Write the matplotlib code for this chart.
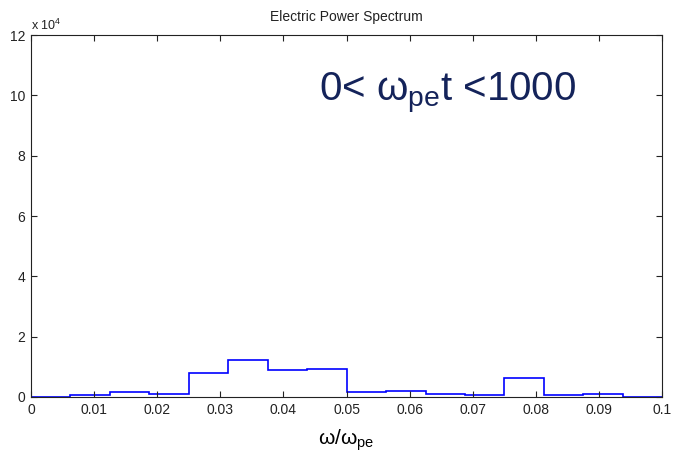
import matplotlib
matplotlib.use("Agg")
import matplotlib.pyplot as plt
import numpy as np
from matplotlib.ticker import FuncFormatter

# 16 equal-width frequency bins on [0, 0.1]
bin_edges = np.linspace(0.0, 0.1, 17)
power = [100, 560, 1800, 1100, 8000, 12400, 8800, 9200,
         1700, 2000, 1000, 600, 6300, 600, 1000, 100]

x_ticks = [0, 0.01, 0.02, 0.03, 0.04, 0.05, 0.06, 0.07, 0.08, 0.09, 0.1]
x_labels = ["0", "0.01", "0.02", "0.03", "0.04", "0.05", "0.06", "0.07", "0.08", "0.09", "0.1"]
y_ticks = [0, 2e4, 4e4, 6e4, 8e4, 10e4, 12e4]

plt.rcParams["font.family"] = ["Liberation Sans", "DejaVu Sans"]
plt.rcParams["mathtext.fontset"] = "custom"
plt.rcParams["mathtext.rm"] = "Liberation Sans"

fig = plt.figure(figsize=(6.73, 4.55), dpi=100)
ax = fig.add_axes([0.046, 0.1275, 0.938, 0.7955])

ax.stairs(power, bin_edges, color="#0000ff", linewidth=1.2)

ax.set_xlim(0, 0.1)
ax.set_ylim(0, 12e4)
ax.set_xticks(x_ticks)
ax.set_xticklabels(x_labels)
ax.set_yticks(y_ticks)
ax.yaxis.set_major_formatter(FuncFormatter(lambda v, p: f"{v / 1e4:g}"))
ax.tick_params(direction="in", top=True, right=True, length=4, width=0.8,
               labelsize=10, colors="#222222", pad=4)
for s in ax.spines.values():
    s.set_linewidth(0.8)
    s.set_color("#222222")

ax.text(0.0, 1.005, r"x 10$^{\rm 4}$", transform=ax.transAxes, fontsize=9,
        ha="left", va="bottom", color="#222222")
ax.set_title("Electric Power Spectrum", fontsize=10, pad=10, color="#222222")
ax.set_xlabel(r"ω/ω$_{\rm pe}$", fontsize=15, labelpad=8)

ax.text(0.066, 10.1e4, r"0< ω$_{\rm pe}$t <1000", fontsize=29,
        color="#14235a", ha="center", va="center")

fig.savefig("out.png", dpi=100)
